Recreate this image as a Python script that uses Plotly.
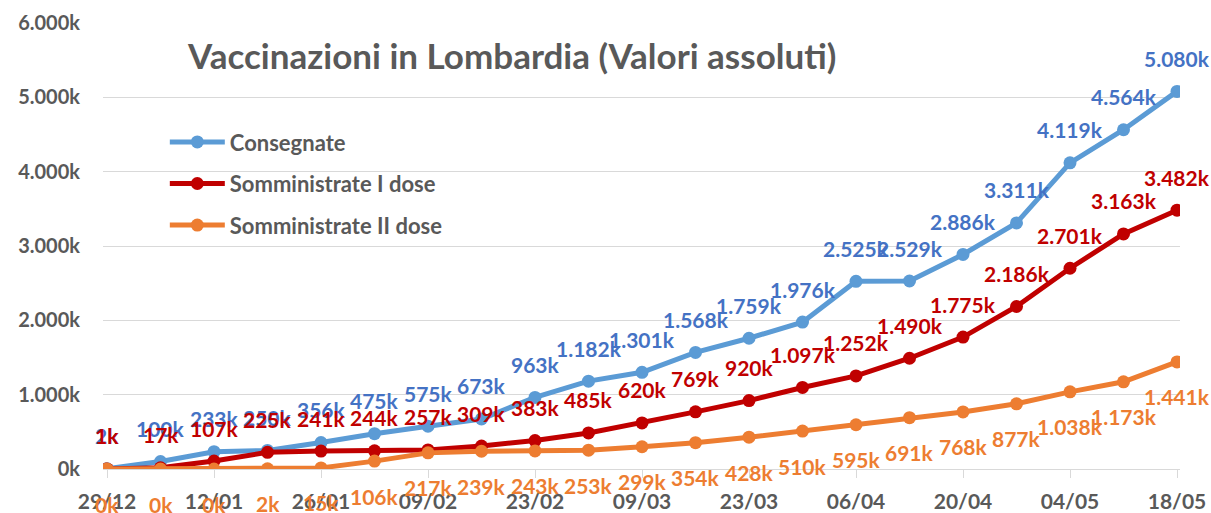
import plotly.graph_objects as go

# Weekly cumulative figures, in thousands of doses
dates = ["29/12", "05/01", "12/01", "19/01", "26/01", "02/02", "09/02", "16/02",
         "23/02", "02/03", "09/03", "16/03", "23/03", "30/03", "06/04", "13/04",
         "20/04", "27/04", "04/05", "11/05", "18/05"]
consegnate = [2, 100, 233, 250, 356, 475, 575, 673, 963, 1182, 1301, 1568, 1759,
              1976, 2525, 2529, 2886, 3311, 4119, 4564, 5080]
prima_dose = [1, 17, 107, 225, 241, 244, 257, 309, 383, 485, 620, 769, 920, 1097,
              1252, 1490, 1775, 2186, 2701, 3163, 3482]
seconda_dose = [0, 0, 0, 2, 15, 106, 217, 239, 243, 253, 299, 354, 428, 510, 595,
                691, 768, 877, 1038, 1173, 1441]

series = [
    ("Consegnate", consegnate, "#5B9BD5", "#4472C4", 33),
    ("Somministrate I dose", prima_dose, "#C00000", "#C00000", 33),
    ("Somministrate II dose", seconda_dose, "#ED7D31", "#ED7D31", -35),
]

FONT = "Lato"
GREY = "#595959"


def fmt_k(v):
    return f"{v:,}".replace(",", ".") + "k"


x_idx = list(range(len(dates)))
fig = go.Figure()
annotations = []
for i, (name, vals, color, label_color, shift) in enumerate(series):
    fig.add_trace(go.Scatter(
        x=x_idx, y=vals, name=name, mode="lines+markers",
        line=dict(color=color, width=5),
        marker=dict(color=color, size=13),
        legendgroup=f"g{i}",
    ))
    for xi, v in zip(x_idx, vals):
        annotations.append(dict(
            x=xi, y=v, xref="x", yref="y", text=fmt_k(v), showarrow=False,
            yshift=shift,
            font=dict(family=FONT, size=21, color=label_color, weight="bold"),
        ))

annotations.append(dict(
    x=(511 - 103) / 1077, y=(469 - 55) / 446, xref="paper", yref="paper",
    text="Vaccinazioni in Lombardia (Valori assoluti)", showarrow=False,
    font=dict(family=FONT, size=35, color=GREY, weight="bold"),
    xanchor="center", yanchor="middle",
))

tick_idx = x_idx[::2]
fig.update_layout(
    width=1211, height=513,
    margin=dict(l=103, r=31, t=23, b=44),
    paper_bgcolor="white", plot_bgcolor="white",
    annotations=annotations,
    showlegend=True,
    legend=dict(
        x=0.0574, y=0.78, xanchor="left", yanchor="top",
        font=dict(family=FONT, size=22, color=GREY, weight="bold"),
        bgcolor="rgba(0,0,0,0)", tracegroupgap=10, itemwidth=55,
    ),
    xaxis=dict(
        range=[-0.075, 20.056], automargin=False,
        tickmode="array", tickvals=tick_idx, ticktext=[dates[k] for k in tick_idx],
        showgrid=False, zeroline=False,
        showline=True, linecolor="#D9D9D9", linewidth=1,
        ticks="outside", ticklen=8, tickcolor="#D9D9D9",
        ticklabelstandoff=6,
        tickfont=dict(family=FONT, size=21, color=GREY, weight="bold"),
    ),
    yaxis=dict(
        range=[0, 6000], automargin=False,
        tickvals=[0, 1000, 2000, 3000, 4000, 5000, 6000],
        ticktext=[fmt_k(v) for v in [0, 1000, 2000, 3000, 4000, 5000, 6000]],
        showgrid=True, gridcolor="#D9D9D9", gridwidth=1,
        zeroline=False, showline=False, ticks="",
        ticklabelstandoff=22,
        tickfont=dict(family=FONT, size=20, color=GREY, weight="bold"),
    ),
)

fig.write_html("out.html")
